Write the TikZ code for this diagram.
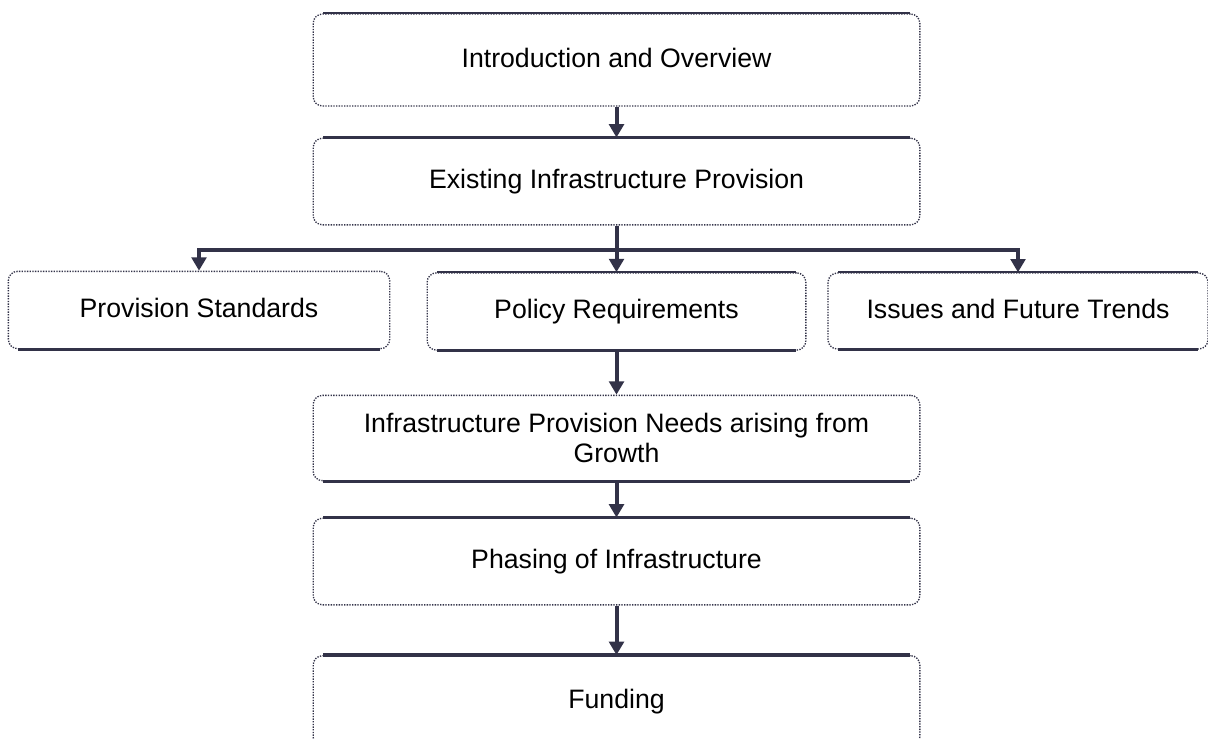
\documentclass[tikz,border=0pt]{standalone}
\usepackage{fontspec}
\setmainfont{Liberation Sans}
\usetikzlibrary{arrows.meta}
\definecolor{inkblue}{RGB}{50,50,72}
\begin{document}
\begin{tikzpicture}[x=0.75pt,y=-0.75pt,
  stage/.style={draw=inkblue,line width=1pt,densely dotted,rounded corners=7pt,fill=white,
    inner sep=0pt,font=\fontsize{20}{23}\selectfont,align=center,text=black},
  oneline/.style={text height=14.5pt,text depth=3.5pt},
  rim/.style={draw=inkblue,line width=2.4pt,line cap=butt},
  thinrim/.style={draw=inkblue,line width=1.3pt},
  flow/.style={draw=inkblue,line width=3pt,-{Triangle[length=10pt,width=11pt]}}]
\clip (0,0) rectangle (1208,739);
\fill[white] (0,0) rectangle (1208,739);
% Drawing stages
% Stage 1: intro
\node[stage,oneline,minimum width=455pt,minimum height=69pt] (intro) at (616.5,60) {Introduction and Overview};
\draw[thinrim] ([xshift=8pt]intro.north west) -- ([xshift=-8pt]intro.north east);
% Stage 2: existing
\node[stage,oneline,minimum width=455pt,minimum height=65pt] (existing) at (616.5,181.5) {Existing Infrastructure Provision};
\draw[rim] ([xshift=8pt]existing.north west) -- ([xshift=-8pt]existing.north east);
% Stage 3: standards, policy, issues
\node[stage,oneline,minimum width=286pt,minimum height=58pt] (standards) at (199,310) {Provision Standards};
\draw[rim] ([xshift=8pt]standards.south west) -- ([xshift=-8pt]standards.south east);
\node[stage,oneline,minimum width=284pt,minimum height=58pt] (policy) at (616.5,311.5) {Policy Requirements};
\draw[thinrim] ([xshift=8pt]policy.north west) -- ([xshift=-8pt]policy.north east);
\draw[rim] ([xshift=8pt]policy.south west) -- ([xshift=-8pt]policy.south east);
\node[stage,oneline,minimum width=285pt,minimum height=57pt] (issues) at (1018,311) {Issues and Future Trends};
\draw[thinrim] ([xshift=8pt]issues.north west) -- ([xshift=-8pt]issues.north east);
\draw[rim] ([xshift=8pt]issues.south west) -- ([xshift=-8pt]issues.south east);
% Stage 4: needs
\node[stage,minimum width=455pt,minimum height=64pt] (needs) at (616.5,438) {Infrastructure Provision Needs arising from\\Growth};
\draw[rim] ([xshift=8pt]needs.south west) -- ([xshift=-8pt]needs.south east);
% Stage 5: phasing
\node[stage,oneline,minimum width=455pt,minimum height=65pt] (phasing) at (616.5,561.5) {Phasing of Infrastructure};
\draw[rim] ([xshift=8pt]phasing.north west) -- ([xshift=-8pt]phasing.north east);
% Stage 6: funding
\node[stage,oneline,minimum width=455pt,minimum height=68pt] (funding) at (616.5,701) {Funding};
\draw[rim] ([xshift=8pt]funding.north west) -- ([xshift=-8pt]funding.north east);
% Done with stages; drawing arrows
\coordinate (split) at (616.5,250);
\draw[flow] (intro) -- (existing);
\draw[flow] (existing) -- (policy);
\draw[flow] (split) -| (standards);
\draw[flow] (split) -| (issues);
\draw[flow] (policy) -- (needs);
\draw[flow] (needs) -- (phasing);
\draw[flow] (phasing) -- (funding);
% Done with arrows
\end{tikzpicture}
\end{document}
